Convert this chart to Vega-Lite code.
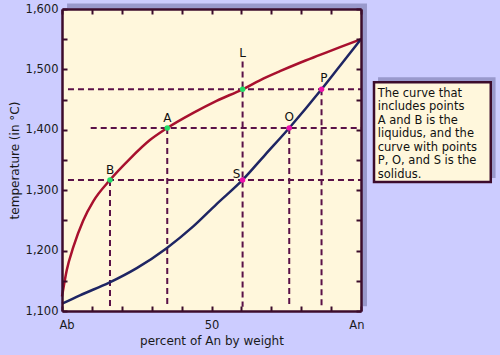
{
  "$schema": "https://vega.github.io/schema/vega-lite/v6.json",
  "autosize": {"type": "none"},
  "width": 299,
  "height": 302,
  "padding": {"left": 62, "top": 9, "right": 139, "bottom": 44},
  "background": "#ccccff",
  "config": {"view": {"stroke": null}, "font": "DejaVu Sans"},
  "datasets": {
    "shadow": [
      {"x": 1.7, "x2": 102, "t": 1108, "t2": 1609},
      {"x": 105.7, "x2": 145, "t": 1320, "t2": 1487}
    ],
    "panel": [{"x": 0, "x2": 100, "t": 1100, "t2": 1600}],
    "box": [{"x": 104.35, "x2": 143.4, "t": 1313.6, "t2": 1478.6}],
    "guides": [
      {"x": 2, "x2": 100, "t": 1317, "t2": 1317},
      {"x": 9.6, "x2": 100, "t": 1403, "t2": 1403},
      {"x": 2, "x2": 100, "t": 1467, "t2": 1467},
      {"x": 16.05, "x2": 16.05, "t": 1317, "t2": 1107},
      {"x": 35.2, "x2": 35.2, "t": 1403, "t2": 1107},
      {"x": 60.4, "x2": 60.4, "t": 1513, "t2": 1107},
      {"x": 76, "x2": 76, "t": 1403, "t2": 1107},
      {"x": 86.8, "x2": 86.8, "t": 1467, "t2": 1109}
    ],
    "curves": [
      {"curve": "liquidus", "x": 0, "t": 1124},
      {"curve": "liquidus", "x": 1.6, "t": 1168},
      {"curve": "liquidus", "x": 3.8, "t": 1206},
      {"curve": "liquidus", "x": 7.1, "t": 1250},
      {"curve": "liquidus", "x": 10.5, "t": 1282},
      {"curve": "liquidus", "x": 16.05, "t": 1317},
      {"curve": "liquidus", "x": 22.7, "t": 1352},
      {"curve": "liquidus", "x": 29.4, "t": 1383},
      {"curve": "liquidus", "x": 35.2, "t": 1403},
      {"curve": "liquidus", "x": 43.9, "t": 1428},
      {"curve": "liquidus", "x": 51.7, "t": 1448},
      {"curve": "liquidus", "x": 60.4, "t": 1467},
      {"curve": "liquidus", "x": 66.2, "t": 1482},
      {"curve": "liquidus", "x": 72.9, "t": 1497},
      {"curve": "liquidus", "x": 79.6, "t": 1511},
      {"curve": "liquidus", "x": 86.3, "t": 1524},
      {"curve": "liquidus", "x": 93, "t": 1537},
      {"curve": "liquidus", "x": 100, "t": 1550},
      {"curve": "solidus", "x": 0, "t": 1112},
      {"curve": "solidus", "x": 6, "t": 1126},
      {"curve": "solidus", "x": 15.8, "t": 1147},
      {"curve": "solidus", "x": 25, "t": 1171},
      {"curve": "solidus", "x": 35, "t": 1204},
      {"curve": "solidus", "x": 43.9, "t": 1240},
      {"curve": "solidus", "x": 51.7, "t": 1277},
      {"curve": "solidus", "x": 60.4, "t": 1317},
      {"curve": "solidus", "x": 68, "t": 1359},
      {"curve": "solidus", "x": 76, "t": 1403},
      {"curve": "solidus", "x": 86.8, "t": 1467},
      {"curve": "solidus", "x": 93, "t": 1506},
      {"curve": "solidus", "x": 100, "t": 1550}
    ],
    "points": [
      {"name": "B", "curve": "liquidus", "x": 16.05, "t": 1317},
      {"name": "A", "curve": "liquidus", "x": 35.2, "t": 1403},
      {"name": "L", "curve": "liquidus", "x": 60.4, "t": 1467},
      {"name": "S", "curve": "solidus", "x": 60.4, "t": 1317},
      {"name": "O", "curve": "solidus", "x": 76, "t": 1403},
      {"name": "P", "curve": "solidus", "x": 86.8, "t": 1467}
    ],
    "labels": [
      {"label": "B", "x": 16.05, "t": 1333},
      {"label": "A", "x": 35.2, "t": 1419},
      {"label": "L", "x": 60.4, "t": 1527},
      {"label": "S", "x": 58.4, "t": 1327},
      {"label": "O", "x": 76, "t": 1421},
      {"label": "P", "x": 87.6, "t": 1485}
    ],
    "note": [
      {"x": 105.6, "t": 1470, "text": "The curve that\nincludes points\nA and B is the\nliquidus, and the\ncurve with points\nP, O, and S is the\nsolidus."}
    ]
  },
  "resolve": {"axis": {"x": "independent", "y": "independent"}},
  "encoding": {
    "x": {"field": "x", "type": "quantitative", "scale": {"domain": [0, 100], "nice": false, "zero": false}, "axis": null},
    "y": {"field": "t", "type": "quantitative", "scale": {"domain": [1100, 1600], "nice": false, "zero": false}, "axis": null}
  },
  "layer": [
    {
      "data": {"name": "shadow"},
      "mark": {"type": "rect", "fill": "#9999cc"},
      "encoding": {"x2": {"field": "x2"}, "y2": {"field": "t2"}}
    },
    {
      "data": {"name": "panel"},
      "mark": {"type": "rect", "fill": "#fff7dc"},
      "encoding": {
        "x": {"field": "x", "type": "quantitative", "scale": {"domain": [0, 100], "nice": false, "zero": false},
          "axis": {"orient": "bottom", "values": [0, 10, 20, 30, 40, 50, 60, 70, 80, 90, 100],
            "labelExpr": "datum.value==0?'Ab':datum.value==50?'50':datum.value==100?'An':''",
            "labelFlush": true, "labelFlushOffset": 3, "labelOverlap": false,
            "tickSize": -5, "tickWidth": 2, "tickColor": "#3c0c2c",
            "domainColor": "#3c0c2c", "domainWidth": 2.5,
            "labelPadding": 13, "labelFont": "DejaVu Sans", "labelFontSize": 11.5, "labelColor": "#1a1a1a",
            "title": "percent of An by weight", "titleFont": "DejaVu Sans", "titleFontSize": 12,
            "titleFontWeight": "normal", "titleColor": "#1a1a1a", "titlePadding": 5,
            "grid": false, "zindex": 1}},
        "x2": {"field": "x2"},
        "y": {"field": "t", "type": "quantitative", "scale": {"domain": [1100, 1600], "nice": false, "zero": false},
          "axis": {"orient": "left", "values": [1100, 1150, 1200, 1250, 1300, 1350, 1400, 1450, 1500, 1550, 1600],
            "labelExpr": "datum.value%100==0?format(datum.value,','):''",
            "labelFlush": false, "labelOverlap": false,
            "tickSize": -5, "tickWidth": 2, "tickColor": "#3c0c2c",
            "domainColor": "#3c0c2c", "domainWidth": 2.5,
            "labelPadding": 9, "labelFont": "DejaVu Sans", "labelFontSize": 11.5, "labelColor": "#1a1a1a",
            "title": "temperature (in °C)", "titleFont": "DejaVu Sans", "titleFontSize": 12,
            "titleFontWeight": "normal", "titleColor": "#1a1a1a", "titlePadding": 4,
            "grid": false, "zindex": 1}},
        "y2": {"field": "t2"}
      }
    },
    {
      "data": {"name": "guides"},
      "mark": {"type": "rule", "stroke": "#5a1048", "strokeWidth": 2, "strokeDash": [6, 4]},
      "encoding": {
        "x": {"field": "x", "type": "quantitative", "scale": {"domain": [0, 100], "nice": false, "zero": false},
          "axis": {"orient": "top", "values": [0, 10, 20, 30, 40, 50, 60, 70, 80, 90, 100], "labels": false,
            "tickSize": -5, "tickWidth": 2, "tickColor": "#3c0c2c",
            "domainColor": "#3c0c2c", "domainWidth": 2.5, "title": null, "grid": false, "zindex": 1}},
        "x2": {"field": "x2"},
        "y": {"field": "t", "type": "quantitative", "scale": {"domain": [1100, 1600], "nice": false, "zero": false},
          "axis": {"orient": "right", "values": [1100, 1150, 1200, 1250, 1300, 1350, 1400, 1450, 1500, 1550, 1600], "labels": false,
            "tickSize": -5, "tickWidth": 2, "tickColor": "#3c0c2c",
            "domainColor": "#3c0c2c", "domainWidth": 2.5, "title": null, "grid": false, "zindex": 1}},
        "y2": {"field": "t2"}
      }
    },
    {
      "data": {"name": "curves"},
      "mark": {"type": "line", "strokeWidth": 2.5, "interpolate": "monotone"},
      "encoding": {
        "stroke": {"field": "curve", "type": "nominal", "scale": {"domain": ["liquidus", "solidus"], "range": ["#a8102e", "#1e2563"]}, "legend": null}
      }
    },
    {
      "data": {"name": "points"},
      "mark": {"type": "circle", "size": 30, "opacity": 1},
      "encoding": {
        "fill": {"field": "curve", "type": "nominal", "scale": {"domain": ["liquidus", "solidus"], "range": ["#22dd66", "#ee11aa"]}, "legend": null}
      }
    },
    {
      "data": {"name": "labels"},
      "mark": {"type": "text", "font": "DejaVu Sans", "fontSize": 12, "color": "#111111", "align": "center", "baseline": "middle"},
      "encoding": {"text": {"field": "label"}}
    },
    {
      "data": {"name": "box"},
      "mark": {"type": "rect", "fill": "#fff7dc", "stroke": "#3c0c2c", "strokeWidth": 2.5},
      "encoding": {"x2": {"field": "x2"}, "y2": {"field": "t2"}}
    },
    {
      "data": {"name": "note"},
      "mark": {"type": "text", "font": "DejaVu Sans", "fontSize": 11.5, "lineHeight": 13.5, "lineBreak": "\n", "color": "#111111", "align": "left", "baseline": "top"},
      "encoding": {"text": {"field": "text"}}
    }
  ]
}
